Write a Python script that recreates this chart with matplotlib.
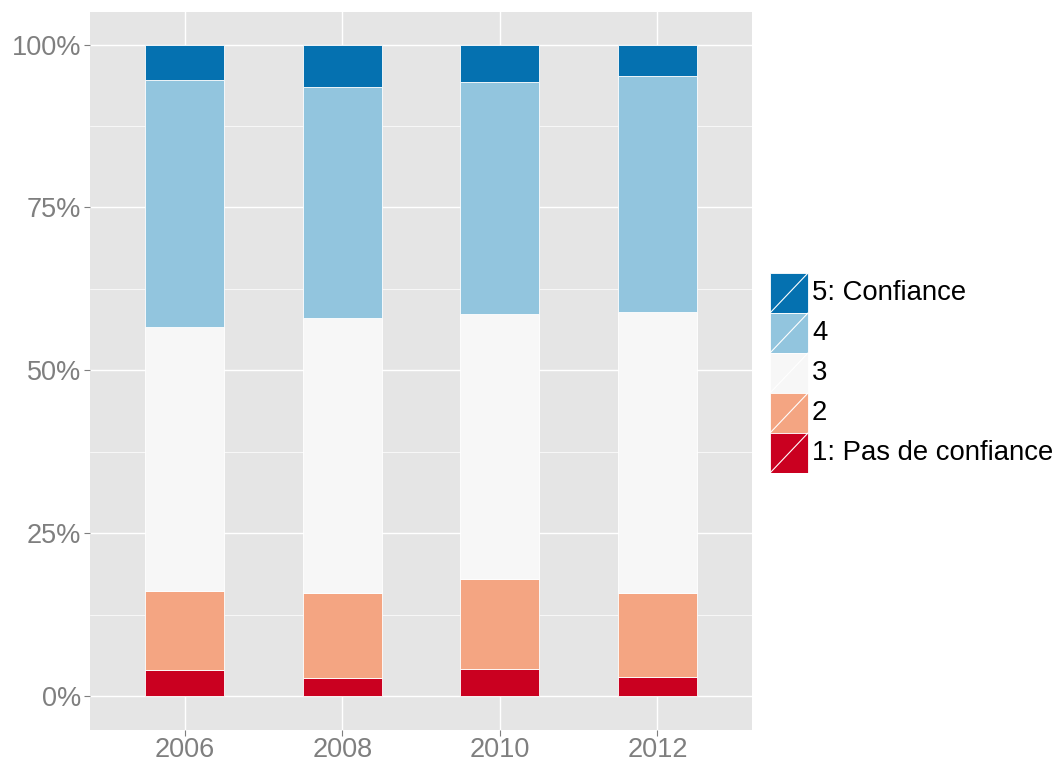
import numpy as np
import matplotlib.pyplot as plt
from matplotlib.patches import Rectangle
from matplotlib.ticker import FixedLocator

plt.rcParams['font.family'] = ['Liberation Sans', 'DejaVu Sans']

years = ["2006", "2008", "2010", "2012"]
levels = ["1: Pas de confiance", "2", "3", "4", "5: Confiance"]
# shares per level (in %), one list per level, ordered like years
share_1 = [3.95, 2.8, 4.15, 3.0]
share_2 = [12.25, 13.1, 13.85, 12.8]
share_3 = [40.5, 42.2, 40.65, 43.1]
share_4 = [37.8, 35.4, 35.55, 36.3]
share_5 = [5.5, 6.5, 5.8, 4.8]
shares = [share_1, share_2, share_3, share_4, share_5]
clrs = ["#CA0020", "#F4A582", "#F7F7F7", "#92C5DE", "#0571B0"]

fig = plt.figure(figsize=(10.62, 7.6), dpi=100)
ax = fig.add_axes([90/1062, 30/760, 662/1062, 718/760])
ax.set_facecolor("#E5E5E5")

x = np.arange(1, len(years) + 1)
bottom = np.zeros(len(years))
for i in range(len(levels)):
    vals = np.array(shares[i]) / 100.0
    ax.bar(x, vals, width=0.5, bottom=bottom, color=clrs[i], edgecolor="white", linewidth=0.6, zorder=3)
    bottom += vals

ax.set_xlim(0.4, 4.6)
ax.set_ylim(-0.052, 1.05)
ax.set_xticks(x)
ax.set_xticklabels(years)
ax.set_yticks([0, 0.25, 0.5, 0.75, 1.0])
ax.set_yticklabels(["0%", "25%", "50%", "75%", "100%"])
ax.yaxis.set_minor_locator(FixedLocator([0.125, 0.375, 0.625, 0.875]))
ax.grid(which="major", color="white", linewidth=1.0, zorder=0)
ax.grid(which="minor", axis="y", color="white", linewidth=0.5, zorder=0)
ax.set_axisbelow(True)
for s in ax.spines.values():
    s.set_visible(False)
ax.tick_params(axis="both", which="major", length=4, width=0.8, color="#7F7F7F",
               labelcolor="#7F7F7F", labelsize=19.5, pad=2.5)
ax.tick_params(axis="x", which="major", pad=1.2)
ax.tick_params(axis="y", which="minor", length=0)

# legend drawn by hand
lax = fig.add_axes([770/1062, (760-473)/760, 290/1062, 200/760])
lax.set_xlim(0, 290)
lax.set_ylim(0, 200)
lax.axis("off")
for j, i in enumerate(range(len(levels) - 1, -1, -1)):
    y0 = 200 - (j + 1) * 40
    lax.add_patch(Rectangle((0, y0), 38, 40, facecolor=clrs[i], edgecolor="white", linewidth=0.6))
    lax.plot([0, 38], [y0, y0 + 40], color="white", linewidth=0.8)
    lax.text(42, y0 + 20, levels[i], fontsize=19.8, va="center", ha="left", color="black")

fig.savefig("out.png", dpi=100)
